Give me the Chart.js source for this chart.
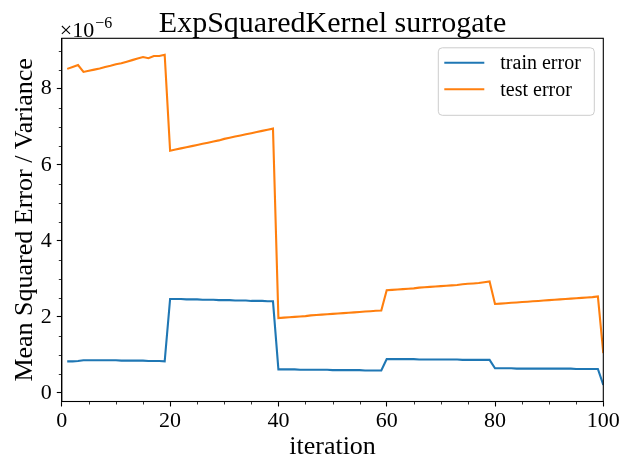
<!DOCTYPE html>
<html>
<head>
<meta charset="utf-8">
<script src="https://cdn.jsdelivr.net/npm/chart.js@4.4.1/dist/chart.umd.min.js"></script>
<style>
  html, body { margin: 0; padding: 0; background: #fff; }
  #wrap { width: 630px; height: 469px; }
</style>
</head>
<body>
<div id="wrap"><canvas id="plot" width="630" height="469"></canvas></div>
<script>
// data (error values in units of 1e-6)
const iterations = [
  1, 2, 3, 4, 5, 6, 7, 8, 9, 10, 11, 12, 13, 14, 15, 16, 17, 18, 19, 20,
  21, 22, 23, 24, 25, 26, 27, 28, 29, 30, 31, 32, 33, 34, 35, 36, 37, 38, 39, 40,
  41, 42, 43, 44, 45, 46, 47, 48, 49, 50, 51, 52, 53, 54, 55, 56, 57, 58, 59, 60,
  61, 62, 63, 64, 65, 66, 67, 68, 69, 70, 71, 72, 73, 74, 75, 76, 77, 78, 79, 80,
  81, 82, 83, 84, 85, 86, 87, 88, 89, 90, 91, 92, 93, 94, 95, 96, 97, 98, 99, 100
];
const trainError = [
  0.83, 0.83, 0.84, 0.86, 0.86, 0.86, 0.86, 0.86, 0.86, 0.86, 0.85, 0.85, 0.85, 0.85, 0.85, 0.84, 0.84, 0.84, 0.83,
  2.47, 2.47, 2.47, 2.46, 2.46, 2.46, 2.45, 2.45, 2.45, 2.44, 2.44, 2.44, 2.43, 2.43, 2.43, 2.42, 2.42, 2.42, 2.41, 2.41,
  0.62, 0.62, 0.62, 0.62, 0.61, 0.61, 0.61, 0.61, 0.61, 0.61, 0.60, 0.60, 0.60, 0.60, 0.60, 0.60, 0.59, 0.59, 0.59, 0.59,
  0.89, 0.89, 0.89, 0.89, 0.89, 0.89, 0.88, 0.88, 0.88, 0.88, 0.88, 0.88, 0.88, 0.88, 0.87, 0.87, 0.87, 0.87, 0.87, 0.87,
  0.65, 0.65, 0.65, 0.65, 0.64, 0.64, 0.64, 0.64, 0.64, 0.64, 0.64, 0.64, 0.64, 0.64, 0.64, 0.63, 0.63, 0.63, 0.63, 0.63,
  0.21
];
const testError = [
  8.52, 8.57, 8.62, 8.44, 8.47, 8.50, 8.53, 8.57, 8.60, 8.64, 8.67, 8.71, 8.75, 8.79, 8.83, 8.80, 8.86, 8.86, 8.89,
  6.37, 6.40, 6.43, 6.46, 6.49, 6.52, 6.55, 6.58, 6.61, 6.64, 6.68, 6.71, 6.74, 6.77, 6.80, 6.83, 6.86, 6.89, 6.92, 6.95,
  1.97, 1.98, 1.99, 2.00, 2.01, 2.02, 2.04, 2.05, 2.06, 2.07, 2.08, 2.09, 2.10, 2.11, 2.12, 2.13, 2.14, 2.15, 2.16, 2.17,
  2.70, 2.71, 2.72, 2.73, 2.74, 2.75, 2.77, 2.78, 2.79, 2.80, 2.81, 2.82, 2.83, 2.84, 2.86, 2.87, 2.88, 2.89, 2.91, 2.93,
  2.34, 2.35, 2.36, 2.37, 2.38, 2.39, 2.40, 2.41, 2.42, 2.43, 2.44, 2.45, 2.46, 2.47, 2.48, 2.49, 2.50, 2.51, 2.52, 2.54,
  1.05
];
const seriesNames = ['train error', 'test error'];
const xTickLabels = [0, 20, 40, 60, 80, 100];
const yTickLabels = [0, 2, 4, 6, 8];
const chartTitle = 'ExpSquaredKernel surrogate';
const xTitle = 'iteration';
const yTitle = 'Mean Squared Error / Variance';

const SERIF = '"Liberation Serif", "DejaVu Serif", serif';
const BLUE = '#1f77b4';
const ORANGE = '#ff7f0e';

const toPoints = vals => vals.map((v, i) => ({ x: iterations[i], y: v }));

// frame, minor ticks, title, offset text and legend box
const decor = {
  id: 'decor',
  afterDraw(chart) {
    const ctx = chart.ctx;
    const a = chart.chartArea;
    ctx.save();
    ctx.strokeStyle = '#000';
    ctx.lineWidth = 1.1;
    ctx.strokeRect(a.left, a.top, a.right - a.left, a.bottom - a.top);

    // minor ticks
    ctx.lineWidth = 0.8;
    const xs = chart.scales.x, ys = chart.scales.y;
    xs.ticks.forEach(t => {
      if (xTickLabels.includes(t.value)) return;
      const px = Math.round(xs.getPixelForValue(t.value)) + 0.5;
      ctx.beginPath(); ctx.moveTo(px, a.bottom); ctx.lineTo(px, a.bottom + 3); ctx.stroke();
    });
    ys.ticks.forEach(t => {
      if (yTickLabels.includes(t.value)) return;
      const py = Math.round(ys.getPixelForValue(t.value)) + 0.5;
      ctx.beginPath(); ctx.moveTo(a.left, py); ctx.lineTo(a.left - 3, py); ctx.stroke();
    });

    // title
    ctx.fillStyle = '#000';
    ctx.textAlign = 'center';
    ctx.textBaseline = 'alphabetic';
    ctx.font = '30px ' + SERIF;
    ctx.fillText(chartTitle, (a.left + a.right) / 2, 32);

    // offset text x10^-6
    ctx.textAlign = 'left';
    ctx.font = '22px ' + SERIF;
    ctx.fillText('\u00d710', a.left - 2, 37);
    const w = ctx.measureText('\u00d710').width;
    ctx.font = '16px ' + SERIF;
    ctx.fillText('\u22126', a.left - 2 + w + 1, 28);

    // legend
    const bx = a.right - 165, by = a.top + 9.5, bw = 156, bh = 67.5;
    ctx.beginPath();
    ctx.roundRect(bx, by, bw, bh, 4);
    ctx.fillStyle = 'rgba(255,255,255,0.8)';
    ctx.fill();
    ctx.strokeStyle = '#cccccc';
    ctx.lineWidth = 1;
    ctx.stroke();
    const cols = [BLUE, ORANGE];
    ctx.font = '20px ' + SERIF;
    ctx.textBaseline = 'middle';
    seriesNames.forEach((name, i) => {
      const ly = by + 15 + i * 26.5;
      ctx.strokeStyle = cols[i];
      ctx.lineWidth = 2.1;
      ctx.beginPath(); ctx.moveTo(bx + 6, ly); ctx.lineTo(bx + 46, ly); ctx.stroke();
      ctx.fillStyle = '#000';
      ctx.fillText(name, bx + 62, ly + 1);
    });
    ctx.restore();
  }
};

const tickCol = (labels) => c => labels.includes(c.tick.value) ? '#000' : 'rgba(0,0,0,0)';

new Chart(document.getElementById('plot').getContext('2d'), {
  type: 'line',
  data: {
    datasets: [
      { label: seriesNames[0], data: toPoints(trainError), borderColor: BLUE, borderWidth: 2.1, pointRadius: 0, fill: false, tension: 0 },
      { label: seriesNames[1], data: toPoints(testError), borderColor: ORANGE, borderWidth: 2.1, pointRadius: 0, fill: false, tension: 0 }
    ]
  },
  options: {
    responsive: false,
    animation: false,
    layout: { padding: { top: 38.3, right: 26.7, left: 0, bottom: 0 } },
    plugins: { legend: { display: false }, tooltip: { enabled: false }, title: { display: false } },
    scales: {
      x: {
        type: 'linear',
        min: 0, max: 100,
        afterFit: s => { s.height = 67.5; },
        ticks: {
          stepSize: 5, autoSkip: false, maxRotation: 0, padding: 2,
          color: '#000', font: { family: SERIF, size: 22 },
          callback: v => xTickLabels.includes(v) ? String(v) : ''
        },
        grid: { drawOnChartArea: false, tickLength: 5, tickWidth: 1.1, tickColor: tickCol(xTickLabels) },
        border: { color: '#000', width: 1.1 },
        title: { display: true, text: xTitle, color: '#000', font: { family: SERIF, size: 26 }, padding: { top: 0, bottom: 6 } }
      },
      y: {
        type: 'linear',
        min: -0.224, max: 9.324,
        afterFit: s => { s.width = 61.8; },
        ticks: {
          stepSize: 0.5, autoSkip: false, includeBounds: false, padding: 5,
          color: '#000', font: { family: SERIF, size: 22 },
          callback: v => yTickLabels.includes(v) ? String(v) : ''
        },
        grid: { drawOnChartArea: false, tickLength: 5, tickWidth: 1.1, tickColor: tickCol(yTickLabels) },
        border: { color: '#000', width: 1.1 },
        title: { display: true, text: yTitle, color: '#000', font: { family: SERIF, size: 26 }, padding: { top: 10, bottom: 0 } }
      }
    }
  },
  plugins: [decor]
});
</script>
</body>
</html>
